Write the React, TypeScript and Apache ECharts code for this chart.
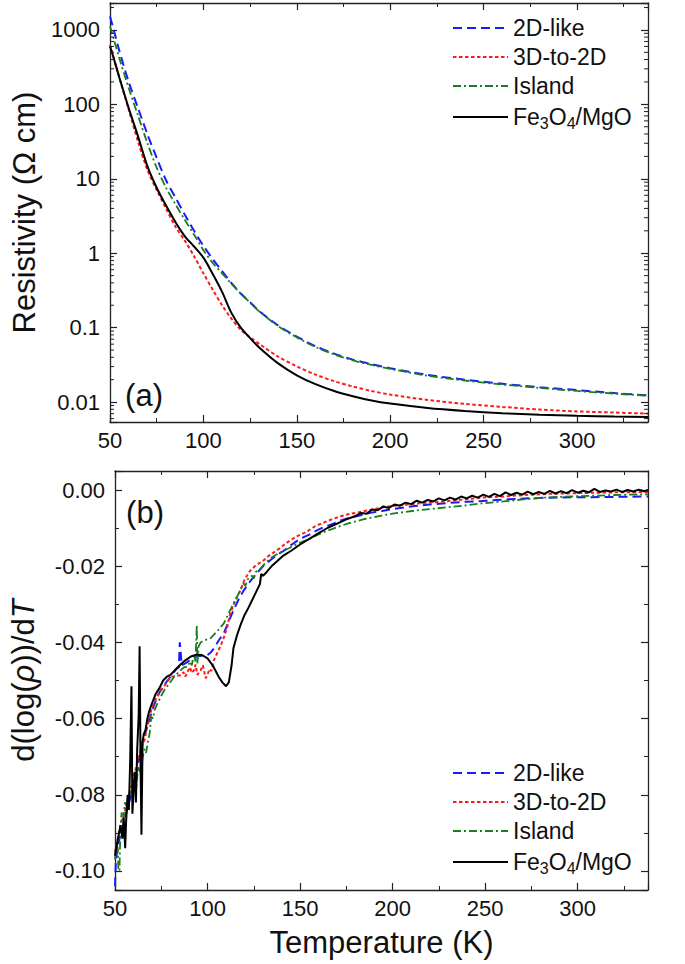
import React, { useEffect, useRef } from 'react';
import * as echarts from 'echarts';

const FONT = "'Liberation Sans', Arial, Helvetica, sans-serif";
const NAMES = ['2D-like', '3D-to-2D', 'Island', 'Fe3O4/MgO'];
const COLORS = ['#1a1aff', '#ff1a1a', '#1a7f1a', '#000000'];
const DASHES: any[] = [[9, 5], [3.5, 2.5], [8, 3, 2, 3], 'solid'];
const WIDTHS = [2, 2, 1.8, 2];

// Panel (a): resistivity (Ω cm) vs temperature (K)
const T_RHO = [50, 52, 55, 60, 65, 70, 75, 80, 85, 90, 95, 100, 105, 110, 115, 120, 125, 130, 140, 150, 160, 170, 180, 190, 200, 220, 240, 260, 280, 300, 320, 338];
const RHO_2D = [1514, 1000, 525, 200, 89, 39.8, 19.1, 9.55, 5.62, 3.31, 2.0, 1.26, 0.832, 0.575, 0.398, 0.288, 0.219, 0.166, 0.107, 0.0759, 0.0562, 0.0447, 0.0372, 0.0324, 0.0285, 0.0232, 0.0200, 0.0176, 0.0158, 0.0145, 0.0132, 0.0123];
const RHO_3D2D = [631, 417, 229, 85.1, 31.6, 13.2, 7.08, 3.98, 2.29, 1.48, 0.912, 0.537, 0.324, 0.200, 0.132, 0.0933, 0.0741, 0.0603, 0.0407, 0.0302, 0.0234, 0.0191, 0.0162, 0.0141, 0.0126, 0.0107, 0.00944, 0.00861, 0.00794, 0.00750, 0.00724, 0.00700];
const RHO_ISLAND = [1122, 759, 417, 166, 70.8, 30.2, 14.1, 7.59, 4.57, 2.82, 1.78, 1.10, 0.741, 0.537, 0.389, 0.288, 0.216, 0.164, 0.105, 0.0741, 0.0550, 0.0437, 0.0363, 0.0316, 0.0279, 0.0226, 0.0195, 0.0172, 0.0155, 0.0141, 0.0130, 0.0122];
const RHO_FE3O4 = [603, 417, 229, 89.1, 37.2, 14.8, 7.59, 4.37, 2.63, 1.70, 1.23, 0.871, 0.525, 0.302, 0.158, 0.100, 0.0724, 0.0537, 0.0331, 0.0229, 0.0174, 0.0141, 0.0120, 0.0105, 0.00955, 0.00832, 0.00759, 0.00708, 0.00676, 0.00653, 0.00638, 0.00631];

// Panel (b): d(log rho)/dT vs temperature
const T_D_2D = [50, 50.5, 51.5, 53, 55, 57, 60, 62, 65, 68, 70, 73, 76, 80, 83, 84.5, 85, 85.5, 86, 88, 91, 94, 97, 100, 102, 104, 106, 108.8, 111, 114, 117, 119.5, 123, 126.5, 130, 133.7, 137, 141, 145, 150, 155, 158.5, 163, 167.6, 172, 176.5, 181, 185.3, 190, 194.3, 200, 212, 220, 230, 240, 248, 260, 271.5, 285, 300, 320, 338];
const D_2D = [-0.104, -0.097, -0.094, -0.090, -0.087, -0.083, -0.078, -0.073, -0.066, -0.061, -0.058, -0.054, -0.0515, -0.049, -0.047, -0.0465, -0.040, -0.0425, -0.046, -0.0455, -0.0445, -0.0437, -0.0435, -0.0433, -0.0425, -0.0412, -0.0395, -0.0376, -0.035, -0.0316, -0.0285, -0.0264, -0.024, -0.0219, -0.020, -0.0185, -0.0172, -0.016, -0.0145, -0.0128, -0.0117, -0.0107, -0.0097, -0.0089, -0.008, -0.0073, -0.0068, -0.0063, -0.0058, -0.0055, -0.005, -0.0042, -0.0038, -0.0034, -0.0031, -0.0029, -0.0025, -0.0022, -0.002, -0.0019, -0.0018, -0.0017];

const T_D_3D2D = [50, 51, 52, 53, 54, 55, 56, 57, 58, 58.9, 60, 61, 62.5, 64, 66, 67.5, 69.6, 72, 75, 78, 80.3, 83, 85.6, 87, 88, 89.2, 90.5, 91.5, 92.7, 93.5, 94.5, 96.3, 97.5, 99, 100, 101, 102, 103.4, 105, 107, 109, 110.6, 112.3, 115, 117.7, 120, 123, 126, 130.2, 133, 137, 141, 144.4, 148, 153, 158.5, 163, 167.6, 172, 176.5, 181, 185, 190, 194, 200, 212, 220, 230, 240, 248, 260, 271.5, 285, 300, 320, 338];
const D_3D2D = [-0.095, -0.093, -0.090, -0.088, -0.086, -0.085, -0.083, -0.081, -0.079, -0.0777, -0.075, -0.0735, -0.0708, -0.068, -0.0655, -0.062, -0.0577, -0.055, -0.0525, -0.0505, -0.049, -0.0488, -0.0486, -0.0478, -0.049, -0.0477, -0.0465, -0.048, -0.0473, -0.0458, -0.0485, -0.0473, -0.046, -0.0494, -0.0485, -0.047, -0.0475, -0.0447, -0.043, -0.041, -0.0385, -0.036, -0.0324, -0.029, -0.0264, -0.0235, -0.0212, -0.0198, -0.0185, -0.0173, -0.016, -0.0145, -0.0133, -0.0122, -0.0111, -0.0094, -0.0085, -0.0076, -0.0069, -0.0063, -0.0059, -0.0055, -0.005, -0.0046, -0.0042, -0.0036, -0.0033, -0.0029, -0.0024, -0.002, -0.0017, -0.0013, -0.001, -0.0008, -0.0006, -0.0005];

const T_D_ISLAND = [50, 50.8, 51.5, 51.8, 52.4, 53, 53.6, 54.5, 55.3, 56.2, 57.5, 58.9, 59.8, 60.7, 61.5, 62.5, 63.4, 64.3, 65, 66, 66.8, 67.8, 68.7, 69.6, 70.5, 71.4, 73, 75, 76.7, 79, 82, 85, 87.4, 89.2, 90.5, 91.5, 92.7, 93.5, 94.2, 94.5, 95.2, 96.3, 98, 101.7, 105, 108.8, 111, 114, 117, 119.5, 120.5, 121.5, 123, 124, 125, 126, 128, 130, 133.7, 137, 141, 145, 150, 155, 158.5, 163, 167.6, 172, 176.5, 181, 185, 190, 194, 200, 212, 220, 230, 240, 248, 260, 271.5, 285, 300, 320, 338];
const D_ISLAND = [-0.097, -0.093, -0.094, -0.0995, -0.100, -0.088, -0.0846, -0.087, -0.082, -0.083, -0.080, -0.0795, -0.077, -0.076, -0.078, -0.0725, -0.074, -0.0725, -0.070, -0.068, -0.069, -0.066, -0.064, -0.0595, -0.060, -0.0577, -0.056, -0.054, -0.0525, -0.051, -0.049, -0.0475, -0.0465, -0.0464, -0.045, -0.046, -0.043, -0.045, -0.0355, -0.0455, -0.041, -0.040, -0.0395, -0.0389, -0.0372, -0.035, -0.0328, -0.0298, -0.027, -0.0245, -0.0252, -0.0235, -0.023, -0.0225, -0.0232, -0.0215, -0.021, -0.0198, -0.018, -0.017, -0.016, -0.015, -0.0138, -0.0128, -0.012, -0.011, -0.0102, -0.0094, -0.0087, -0.0081, -0.0076, -0.0071, -0.0067, -0.0062, -0.0054, -0.005, -0.0045, -0.004, -0.0035, -0.003, -0.0024, -0.0019, -0.0016, -0.0013, -0.0011];

const T_D_FE3O4 = [50, 51, 52, 53, 54, 54.7, 55.5, 56, 56.8, 57.5, 58.2, 58.9, 59.4, 60, 60.7, 61.3, 62, 62.8, 63.3, 63.8, 64.3, 64.9, 65.6, 66.5, 67.5, 68.5, 70, 72, 74, 76, 78, 80, 82, 85, 88, 91, 94, 97, 100, 103, 106, 108, 110, 111.5, 113, 114, 116, 118, 120, 122, 124, 126, 128.3, 129, 130, 132, 135, 138, 141, 145, 150, 155, 160, 165, 170, 175, 180, 183, 186, 189, 192, 195, 198, 201, 204, 207, 210, 213, 216, 219, 222, 225, 228, 231, 234, 237, 240, 243, 246, 249, 252, 255, 258, 261, 264, 267, 270, 273, 276, 279, 282, 285, 288, 291, 294, 297, 300, 303, 306, 309, 312, 315, 318, 321, 324, 327, 330, 333, 336, 338];
const D_FE3O4 = [-0.096, -0.093, -0.0905, -0.088, -0.0915, -0.086, -0.094, -0.087, -0.080, -0.084, -0.071, -0.0515, -0.085, -0.079, -0.074, -0.082, -0.068, -0.059, -0.041, -0.072, -0.0905, -0.066, -0.064, -0.063, -0.060, -0.058, -0.056, -0.0535, -0.052, -0.050, -0.049, -0.0485, -0.0475, -0.046, -0.0447, -0.0437, -0.0432, -0.0433, -0.0442, -0.0462, -0.049, -0.0505, -0.0515, -0.0505, -0.046, -0.0415, -0.038, -0.0352, -0.0328, -0.031, -0.029, -0.027, -0.0247, -0.022, -0.0225, -0.0215, -0.0198, -0.0185, -0.0172, -0.016, -0.0143, -0.0128, -0.0113, -0.0099, -0.0088, -0.0077, -0.0068, -0.0060, -0.0062, -0.0051, -0.0053, -0.0043, -0.0047, -0.0038, -0.0041, -0.0033, -0.0037, -0.0028, -0.0033, -0.0026, -0.0030, -0.0022, -0.0027, -0.0020, -0.0025, -0.0017, -0.0022, -0.0015, -0.0020, -0.0012, -0.0018, -0.0010, -0.0016, -0.0006, -0.0013, -0.0007, -0.0012, -0.0004, -0.0011, -0.0005, -0.0010, -0.0002, -0.0009, -0.0003, -0.0008, 0.0000, -0.0007, -0.0002, -0.0006, 0.0003, -0.0005, -0.0001, -0.0004, 0.0001, -0.0005, 0.0000, -0.0004, 0.0001, -0.0003, 0.0000];

const X_MIN = 50;
const X_MAX = 338;
const X_STEP = 50;
const RHO_MIN = 0.0054;
const RHO_MAX = 2300;
const D_MIN = -0.105;
const D_MAX = 0.005;
const LOG_MINOR_TICKS = [0.006, 0.007, 0.008, 0.009, 0.02, 0.03, 0.04, 0.05, 0.06, 0.07, 0.08, 0.09, 0.2, 0.3, 0.4, 0.5, 0.6, 0.7, 0.8, 0.9, 2, 3, 4, 5, 6, 7, 8, 9, 20, 30, 40, 50, 60, 70, 80, 90, 200, 300, 400, 500, 600, 700, 800, 900, 2000];

const pair = (xs: number[], ys: number[]) => xs.map((x, i) => [x, ys[i]]);

export default function App() {
  const ref = useRef<HTMLDivElement>(null);
  useEffect(() => {
    if (!ref.current) return;
    const chart = echarts.init(ref.current, undefined, { renderer: 'svg' });
    const AX = '#222';
    const axisBase = {
      axisLine: { show: true, onZero: false, lineStyle: { color: AX, width: 1.3 } },
      axisTick: { show: true, inside: true, length: 7, lineStyle: { color: AX, width: 1.2 } },
      splitLine: { show: false },
      minorSplitLine: { show: false },
    };
    const minorOn = { show: true, splitNumber: 2, length: 4, lineStyle: { color: AX, width: 1 } };
    const xLabel = {
      fontSize: 22, fontFamily: FONT, color: '#111', margin: 7,
      formatter: (v: number) => (Math.abs(v / X_STEP - Math.round(v / X_STEP)) < 1e-6 ? String(v) : ''),
    };
    const xAxisPair = (g: number, extra: any) => [
      { gridIndex: g, type: 'value', min: X_MIN, max: X_MAX, interval: X_STEP, position: 'bottom', ...axisBase, minorTick: minorOn, axisLabel: xLabel, ...extra },
      { gridIndex: g, type: 'value', min: X_MIN, max: X_MAX, interval: X_STEP, position: 'top', ...axisBase, minorTick: minorOn, axisLabel: { show: false } },
    ];
    const logFmt = (v: number) => {
      const l = Math.log10(v);
      return Math.abs(l - Math.round(l)) < 1e-6 ? String(+v.toPrecision(3)) : '';
    };
    const dFmt = (v: number) => {
      const k = v / 0.02;
      if (Math.abs(k - Math.round(k)) > 1e-6) return '';
      return Math.abs(v) < 1e-9 ? '0.00' : v.toFixed(2);
    };
    const yLabel = { fontSize: 22, fontFamily: FONT, color: '#111', margin: 10 };
    const nameStyle = { fontSize: 31, fontFamily: FONT, color: '#111' };

    const legendBase = (top: number) => ({
      data: NAMES,
      orient: 'vertical',
      left: 452,
      top,
      padding: 0,
      itemWidth: 55,
      itemHeight: 14,
      itemGap: 5,
      selectedMode: false,
      itemStyle: { color: 'rgba(0,0,0,0)', borderColor: 'rgba(0,0,0,0)', borderWidth: 0 },
      textStyle: {
        fontSize: 23, fontFamily: FONT, color: '#111', lineHeight: 24,
        rich: { sub: { fontSize: 16, fontFamily: FONT, color: '#111', lineHeight: 16, padding: [12, 0, 0, 0] } },
      },
      formatter: (n: string) => (n === 'Fe3O4/MgO' ? 'Fe{sub|3}O{sub|4}/MgO' : n),
    });

    const topData = [RHO_2D, RHO_3D2D, RHO_ISLAND, RHO_FE3O4];
    const botData = [pair(T_D_2D, D_2D), pair(T_D_3D2D, D_3D2D), pair(T_D_ISLAND, D_ISLAND), pair(T_D_FE3O4, D_FE3O4)];
    const lineStyleFor = (i: number) => ({ color: COLORS[i], width: WIDTHS[i], type: DASHES[i] });

    const series: any[] = [];
    NAMES.forEach((name, i) => {
      series.push({
        name, type: 'line', xAxisIndex: 0, yAxisIndex: 0, showSymbol: false, symbol: 'none',
        smooth: 0.3, data: pair(T_RHO, topData[i]), lineStyle: lineStyleFor(i), itemStyle: { color: COLORS[i] }, z: i === 3 ? 3 : 2,
      });
    });
    NAMES.forEach((name, i) => {
      series.push({
        name, type: 'line', xAxisIndex: 2, yAxisIndex: 2, showSymbol: false, symbol: 'none',
        data: botData[i], lineStyle: lineStyleFor(i), itemStyle: { color: COLORS[i] }, z: i === 3 ? 3 : 2,
      });
    });
    series.push({
      type: 'custom', xAxisIndex: 0, yAxisIndex: 0, silent: true, clip: false, z: 5,
      data: LOG_MINOR_TICKS.map((v) => [X_MIN, v]),
      encode: { x: 0, y: 1 },
      renderItem: (params: any, api: any) => {
        const cs = params.coordSys;
        const y = api.coord([X_MIN, api.value(1)])[1];
        return {
          type: 'group',
          children: [
            { type: 'line', shape: { x1: cs.x, y1: y, x2: cs.x + 4, y2: y }, style: { stroke: AX, lineWidth: 1 } },
            { type: 'line', shape: { x1: cs.x + cs.width, y1: y, x2: cs.x + cs.width - 4, y2: y }, style: { stroke: AX, lineWidth: 1 } },
          ],
        };
      },
    });

    chart.setOption({
      animation: false,
      backgroundColor: '#ffffff',
      grid: [
        { left: 110, top: 3, width: 538, height: 419 },
        { left: 110, top: 471, width: 538, height: 419 },
      ],
      xAxis: [
        ...xAxisPair(0, {}),
        ...xAxisPair(1, { name: 'Temperature (K)', nameLocation: 'middle', nameGap: 37, nameTextStyle: nameStyle }),
      ],
      yAxis: [
        {
          gridIndex: 0, type: 'log', logBase: 10, min: RHO_MIN, max: RHO_MAX, position: 'left', ...axisBase,
          minorTick: { show: false }, axisLabel: { ...yLabel, formatter: logFmt },
          name: 'Resistivity (Ω cm)', nameLocation: 'middle', nameRotate: 90, nameGap: 59, nameTextStyle: nameStyle,
        },
        { gridIndex: 0, type: 'log', logBase: 10, min: RHO_MIN, max: RHO_MAX, position: 'right', ...axisBase, minorTick: { show: false }, axisLabel: { show: false } },
        {
          gridIndex: 1, type: 'value', min: D_MIN, max: D_MAX, splitNumber: 5, position: 'left', ...axisBase,
          minorTick: minorOn, axisLabel: { ...yLabel, formatter: dFmt },
          name: 'd(log({i|ρ}))/d{i|T}', nameLocation: 'middle', nameRotate: 90, nameGap: 76,
          nameTextStyle: { ...nameStyle, rich: { i: { fontSize: 31, fontFamily: FONT, fontStyle: 'italic', color: '#111' } } },
        },
        { gridIndex: 1, type: 'value', min: D_MIN, max: D_MAX, splitNumber: 5, position: 'right', ...axisBase, minorTick: minorOn, axisLabel: { show: false } },
      ],
      legend: [legendBase(16), legendBase(761)],
      graphic: [
        { type: 'text', x: 144, y: 395, style: { text: '(a)', fontSize: 31, fontFamily: FONT, fill: '#111', textAlign: 'center', textVerticalAlign: 'middle' } },
        { type: 'text', x: 145, y: 512, style: { text: '(b)', fontSize: 31, fontFamily: FONT, fill: '#111', textAlign: 'center', textVerticalAlign: 'middle' } },
      ],
      series,
    });
    return () => chart.dispose();
  }, []);
  return <div ref={ref} style={{ position: 'absolute', left: 0, top: 0, width: 685, height: 964, background: '#fff' }} />;
}
